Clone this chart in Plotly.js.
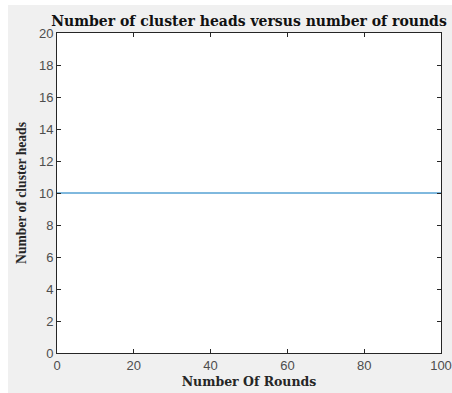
<!DOCTYPE html>
<html>
<head>
<meta charset="utf-8">
<script src="https://cdn.plot.ly/plotly-3.0.1.min.js"></script>
<style>
  html, body { margin: 0; padding: 0; background: #ffffff; width: 452px; height: 393px; overflow: hidden; }
  #chart { position: absolute; left: 8px; top: 5px; width: 444px; height: 388px; }
</style>
</head>
<body>
<div id="chart"></div>
<script>
// Cluster-head count per round
const rounds = [0, 100];
const clusterHeads = [10, 10];

const xTicks = [0, 20, 40, 60, 80, 100];
const yTicks = [0, 2, 4, 6, 8, 10, 12, 14, 16, 18, 20];

const axisColor = '#262626';
const tickFont = { family: 'Liberation Sans, Arial, sans-serif', size: 13, color: '#4d4d4d' };

const trace = {
  x: rounds,
  y: clusterHeads,
  type: 'scatter',
  mode: 'lines',
  line: { color: '#0072BD', width: 1 },
  hoverinfo: 'skip'
};

const layout = {
  width: 444,
  height: 388,
  paper_bgcolor: '#f0f0f0',
  plot_bgcolor: '#ffffff',
  margin: { l: 49, r: 11, t: 28, b: 40 },
  showlegend: false,
  title: {
    text: '<b>Number of cluster heads versus number of rounds</b>',
    font: { family: 'DejaVu Serif, serif', size: 14, color: '#111111' },
    x: 0.5, xref: 'paper', xanchor: 'center',
    y: 1 - 16 / 388, yref: 'container', yanchor: 'middle'
  },
  xaxis: {
    range: [0, 100],
    tickvals: xTicks,
    ticktext: xTicks.map(String),
    ticks: 'inside', ticklen: 4, tickcolor: axisColor, tickwidth: 1,
    showline: true, linecolor: axisColor, linewidth: 1, mirror: 'ticks',
    showgrid: false, zeroline: false,
    tickfont: tickFont,
    title: {
      text: '<b>Number Of Rounds</b>',
      font: { family: 'DejaVu Serif, serif', size: 12.5, color: '#262626' },
      standoff: 5
    }
  },
  yaxis: {
    range: [0, 20],
    tickvals: yTicks,
    ticktext: yTicks.map(String),
    ticks: 'inside', ticklen: 4, tickcolor: axisColor, tickwidth: 1,
    showline: true, linecolor: axisColor, linewidth: 1, mirror: 'ticks',
    showgrid: false, zeroline: false,
    tickfont: tickFont,
    title: {
      text: '<b>Number of cluster heads</b>',
      font: { family: 'Liberation Serif, serif', size: 13.6, color: '#262626' },
      standoff: 9
    }
  }
};

Plotly.newPlot('chart', [trace], layout, { staticPlot: true, displayModeBar: false });
</script>
</body>
</html>
